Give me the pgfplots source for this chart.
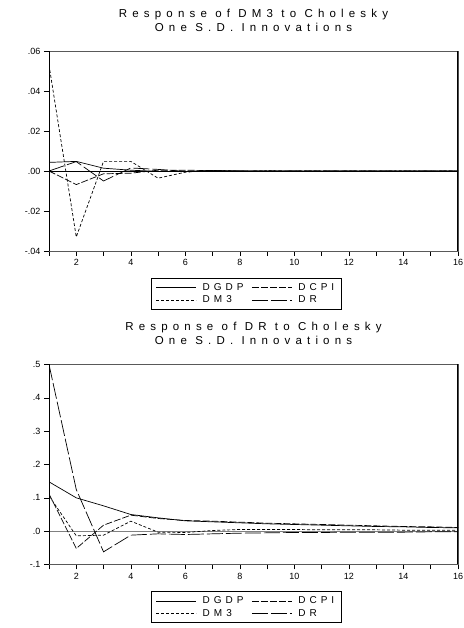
\documentclass[border=0pt]{standalone}
\usepackage{fontspec}
\setmainfont{Liberation Sans}
\newfontfamily\spaced[LetterSpace=40]{Liberation Sans}
\newfontfamily\spacedt[LetterSpace=45]{Liberation Sans}
\usepackage{pgfplots}
\pgfplotsset{compat=1.18}

% EViews-like impulse response panel
\pgfplotsset{
  irf/.style={
    scale only axis, width=409pt, height=200pt,
    xmin=1, xmax=16,
    xtick={1,...,16},
    xticklabels={,2,,4,,6,,8,,10,,12,,14,,16},
    scaled y ticks=false,
    tick align=outside, xtick pos=bottom, ytick pos=left,
    major tick length=5pt,
    tick style={black, line width=0.6pt},
    ticklabel style={font=\fontsize{9}{10}\selectfont},
    /pgf/number format/assume math mode=true,
    axis line style={gray!70!black, line width=0.7pt},
    legend columns=2,
    legend cell align=left,
    legend image code/.code={\draw[##1, line width=0.7pt] (0pt,0pt) -- (40pt,0pt);},
    legend style={at={(rel axis cs:0.482,-0.135)}, anchor=north, draw=black,
      line width=0.6pt, font=\spaced\fontsize{10}{11}\selectfont,
      inner xsep=5pt, inner ysep=3pt, row sep=0pt,
      /tikz/every odd column/.append style={column sep=4pt},
      /tikz/every even column/.append style={column sep=6pt}},
  },
  sgdp/.style={black, line width=0.7pt},
  scpi/.style={black, line width=0.7pt, dash pattern=on 7pt off 2pt},
  sm3/.style={black, line width=0.7pt, dash pattern=on 3pt off 2pt},
  sdr/.style={black, line width=0.7pt, dash pattern=on 16pt off 3pt},
}

\begin{document}
\begin{tikzpicture}[x=1pt, y=1pt]
\useasboundingbox (0,0) rectangle (463,628);

% ---------------- top: response of DM3 ----------------
\node[anchor=base, font=\spacedt\fontsize{11.5}{12}\selectfont] at (253.5,610) {Response of DM3 to Cholesky};
\node[anchor=base, font=\spacedt\fontsize{11.5}{12}\selectfont] at (253.5,596) {One S.D. Innovations};

\begin{axis}[irf, at={(49pt,377pt)}, anchor=south west,
  ymin=-0.04, ymax=0.06,
  ytick={-0.04,-0.02,0,0.02,0.04,0.06},
  yticklabels={-.04,-.02,.00,.02,.04,.06}]
\addplot[black, line width=0.6pt, forget plot] coordinates {(1,0) (16,0)};
\addplot[sgdp] coordinates {(1,0.0043) (2,0.0048) (3,0.0014) (4,0.0004) (5,-0.0002) (6,-0.0002) (7,0.0001) (8,0.0001) (9,0) (10,0) (11,0) (12,0) (13,0) (14,0) (15,0) (16,0)};
\addlegendentry{DGDP}
\addplot[scpi] coordinates {(1,0) (2,-0.0068) (3,-0.0014) (4,-0.0011) (5,0.0004) (6,0.0004) (7,0.0002) (8,-0.0001) (9,0) (10,0) (11,0) (12,0) (13,0) (14,0) (15,0) (16,0)};
\addlegendentry{DCPI}
\addplot[sm3] coordinates {(1,0.053) (2,-0.033) (3,0.0048) (4,0.0048) (5,-0.0036) (6,-0.0006) (7,0.0003) (8,-0.0002) (9,0.0001) (10,0) (11,0) (12,0) (13,0) (14,0) (15,0) (16,0)};
\addlegendentry{DM3}
\addplot[sdr] coordinates {(1,0) (2,0.0047) (3,-0.005) (4,0.0015) (5,0.0008) (6,-0.0002) (7,0.0002) (8,0) (9,0) (10,0) (11,0) (12,0) (13,0) (14,0) (15,0) (16,0)};
\addlegendentry{DR}
\draw[black, line width=1.5pt] (rel axis cs:0,0) -- (rel axis cs:0,1);
\draw[black, line width=1.5pt] (rel axis cs:1,0) -- (rel axis cs:1,1);
\end{axis}

% ---------------- bottom: response of DR ----------------
\node[anchor=base, font=\spacedt\fontsize{11.5}{12}\selectfont] at (253.5,297) {Response of DR to Cholesky};
\node[anchor=base, font=\spacedt\fontsize{11.5}{12}\selectfont] at (253.5,283) {One S.D. Innovations};

\begin{axis}[irf, at={(49pt,63.5pt)}, anchor=south west,
  ymin=-0.1, ymax=0.5,
  ytick={-0.1,0,0.1,0.2,0.3,0.4,0.5},
  yticklabels={-.1,.0,.1,.2,.3,.4,.5}]
\addplot[gray, line width=0.6pt, forget plot] coordinates {(1,0) (16,0)};
\addplot[sgdp] coordinates {(1,0.148) (2,0.100) (3,0.076) (4,0.050) (5,0.040) (6,0.031) (7,0.028) (8,0.025) (9,0.022) (10,0.020) (11,0.018) (12,0.016) (13,0.014) (14,0.013) (15,0.011) (16,0.010)};
\addlegendentry{DGDP}
\addplot[scpi] coordinates {(1,0.112) (2,-0.052) (3,0.018) (4,0.048) (5,0.038) (6,0.032) (7,0.030) (8,0.027) (9,0.024) (10,0.022) (11,0.020) (12,0.018) (13,0.016) (14,0.014) (15,0.013) (16,0.011)};
\addlegendentry{DCPI}
\addplot[sm3] coordinates {(1,0.106) (2,-0.014) (3,-0.012) (4,0.030) (5,-0.003) (6,-0.004) (7,0.002) (8,0.005) (9,0.005) (10,0.005) (11,0.004) (12,0.004) (13,0.004) (14,0.003) (15,0.003) (16,0.003)};
\addlegendentry{DM3}
\addplot[sdr] coordinates {(1,0.500) (2,0.125) (3,-0.062) (4,-0.012) (5,-0.008) (6,-0.010) (7,-0.008) (8,-0.006) (9,-0.005) (10,-0.004) (11,-0.004) (12,-0.003) (13,-0.003) (14,-0.003) (15,-0.002) (16,-0.002)};
\addlegendentry{DR}
\draw[black, line width=1.5pt] (rel axis cs:0,0) -- (rel axis cs:0,1);
\draw[black, line width=1.5pt] (rel axis cs:1,0) -- (rel axis cs:1,1);
\end{axis}
\end{tikzpicture}
\end{document}
